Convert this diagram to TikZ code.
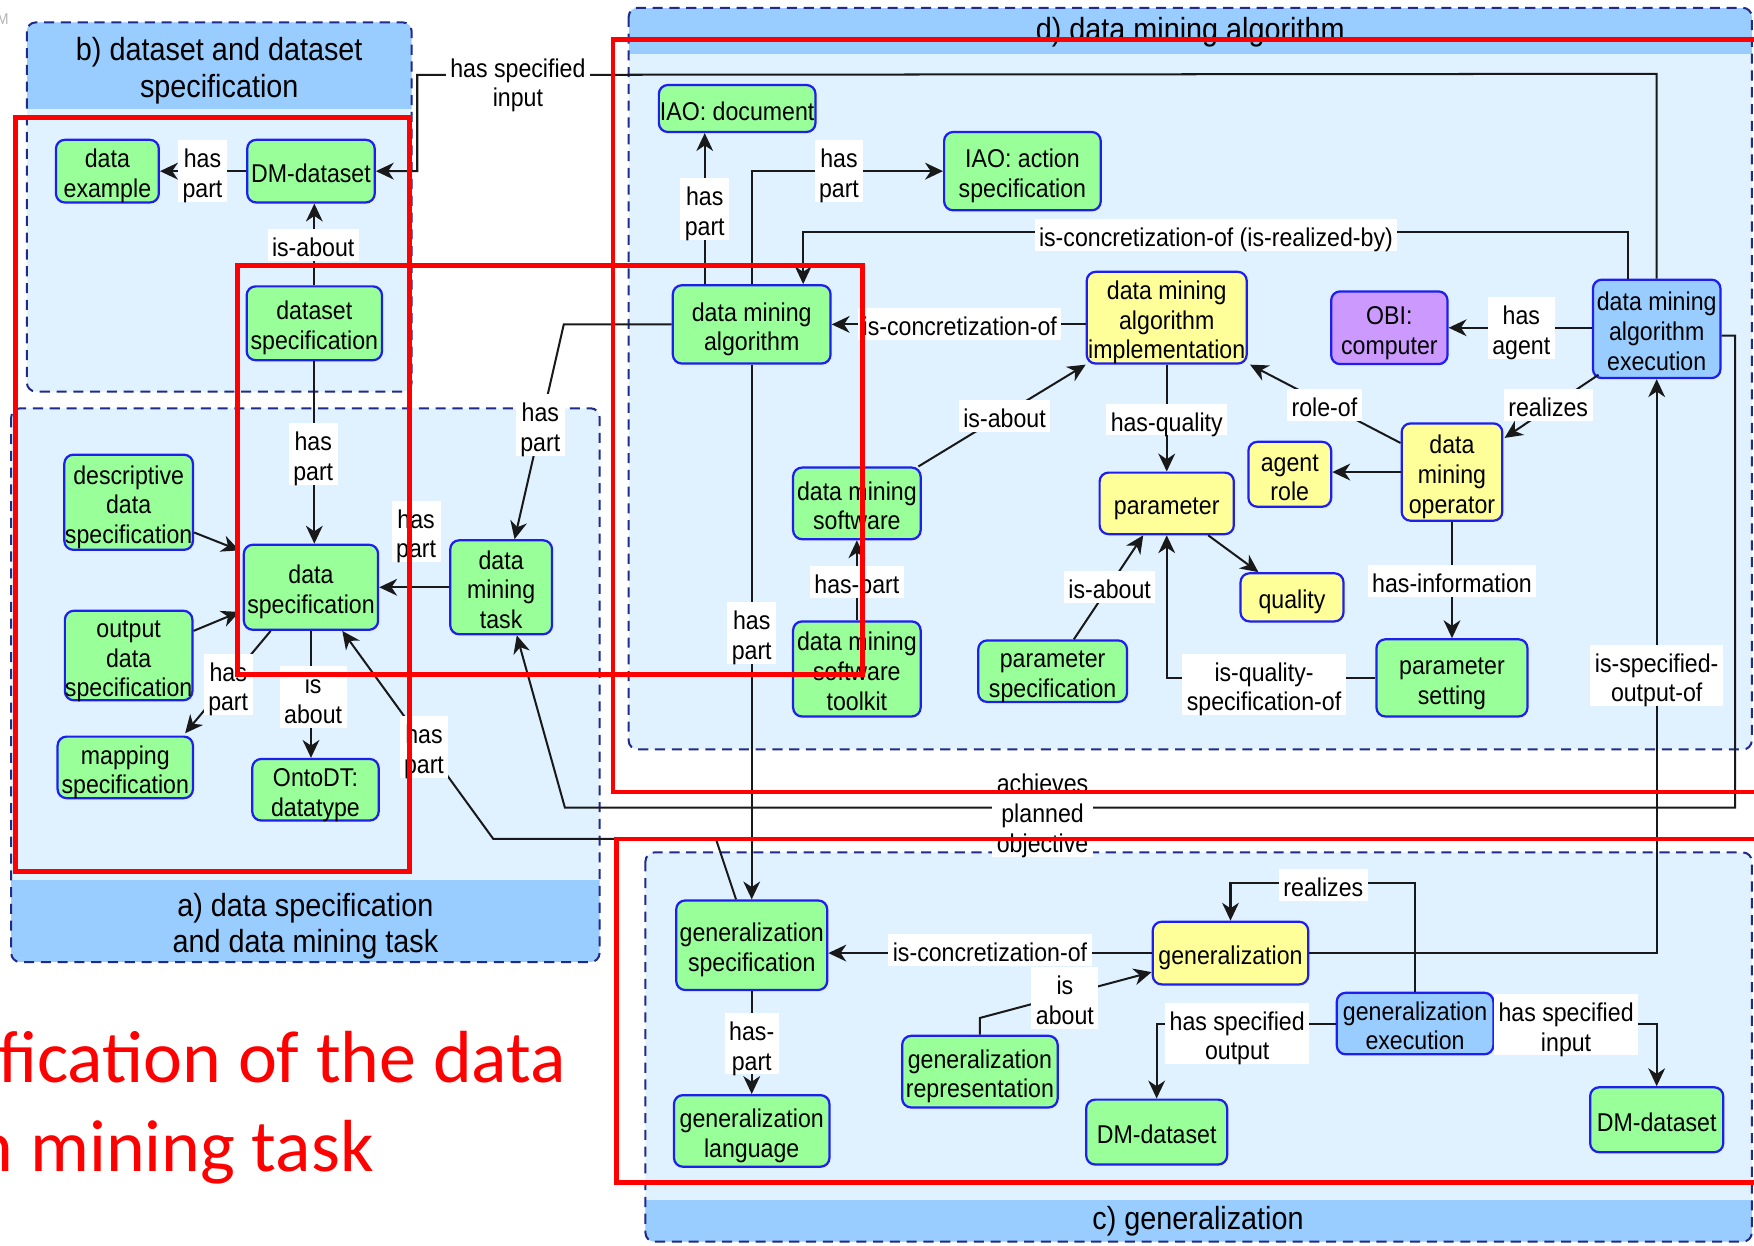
\documentclass[tikz,border=0pt]{standalone}
\usepackage{fontspec}
\setmainfont{Liberation Sans}[FakeStretch=0.9]
\newfontfamily\redfont{Carlito}
\usetikzlibrary{arrows.meta,calc}
\definecolor{ngreen}{HTML}{99FF99}
\definecolor{nyellow}{HTML}{FFFF99}
\definecolor{nblue}{HTML}{99CCFF}
\definecolor{npurple}{HTML}{CC99FF}
\definecolor{nborder}{HTML}{1E1EF0}
\definecolor{phead}{HTML}{99CCFF}
\definecolor{pbody}{HTML}{E0F2FF}
\definecolor{pline}{HTML}{1F2A8A}
\definecolor{redbox}{HTML}{FF0000}
\newcommand{\nf}{\fontsize{11.5}{13.25}\selectfont}
\newcommand{\tf}{\fontsize{14.3}{16.5}\selectfont}
\newcommand{\mltx}[1]{\raisebox{-2.5pt}[\height][\depth]{\begin{tabular}{@{}c@{}}#1\end{tabular}}}
\begin{document}
\begin{tikzpicture}[x=0.5pt,y=-0.5pt,
  box/.style={draw=nborder, line width=1pt, rounded corners=4pt, inner sep=0pt, font=\nf},
  gbox/.style={box, fill=ngreen},
  ybox/.style={box, fill=nyellow},
  bbox/.style={box, fill=nblue},
  pbox/.style={box, fill=npurple},
  lbl/.style={fill=white, inner xsep=2pt, inner ysep=0.5pt, font=\nf},
  conn/.style={line width=0.9pt, draw=black!90},
  arr/.style={conn, -{Stealth[length=8pt,width=7.5pt,inset=2.5pt]}},
  panelline/.style={draw=pline, line width=0.9pt, dash pattern=on 4.5pt off 3pt, rounded corners=4pt},
  redframe/.style={draw=redbox, line width=2.2pt},
  ptitle/.style={align=center, font=\tf, inner sep=0pt}]
\useasboundingbox (0,0) rectangle (1568,1113);

% ---------- panels ----------
% b
\begin{scope}
\clip[rounded corners=4pt] (24,20) rectangle (368,350);
\fill[pbody] (24,20) rectangle (368,350);
\fill[phead] (24,20) rectangle (368,97);
\end{scope}
\draw[panelline] (24,20) rectangle (368,350);
\node[ptitle] (tb) at (196,63) {b) dataset and dataset\\specification};
% a
\begin{scope}
\clip[rounded corners=4pt] (10,365) rectangle (536,860);
\fill[pbody] (10,365) rectangle (536,860);
\fill[phead] (10,787) rectangle (536,860);
\end{scope}
\draw[panelline] (10,365) rectangle (536,860);
\node[ptitle] (ta) at (273,828) {a) data specification\\and data mining task};
% d
\begin{scope}
\clip[rounded corners=4pt] (562,7) rectangle (1566,670);
\fill[pbody] (562,7) rectangle (1566,670);
\fill[phead] (562,7) rectangle (1566,48);
\end{scope}
\draw[panelline] (562,7) rectangle (1566,670);
\node[ptitle] (td) at (1064,29) {d) data mining algorithm};
% c
\begin{scope}
\clip[rounded corners=4pt] (577,762) rectangle (1566,1110);
\fill[pbody] (577,762) rectangle (1566,1110);
\fill[phead] (577,1073) rectangle (1566,1110);
\end{scope}
\draw[panelline] (577,762) rectangle (1566,1110);
\node[ptitle] (tc) at (1071,1092) {c) generalization};

\node[text=gray!60, font=\fontsize{7}{8}\selectfont, anchor=east, inner sep=0pt] (mm) at (8,17) {M};

% ---------- nodes ----------
\node[gbox, minimum width=46pt, minimum height=28pt] (dex) at (96,153) {\mltx{data\\example}};
\node[gbox, minimum width=57pt, minimum height=28pt] (dmd1) at (278,153) {\mltx{DM-dataset}};
\node[gbox, minimum width=60.5pt, minimum height=33pt] (dss) at (281,289) {\mltx{dataset\\specification}};
\node[gbox, minimum width=57.5pt, minimum height=42.5pt] (dds) at (115,449) {\mltx{descriptive\\data\\specification}};
\node[gbox, minimum width=60pt, minimum height=38pt] (dsp) at (278,525) {\mltx{data\\specification}};
\node[gbox, minimum width=45.5pt, minimum height=42pt] (dmt) at (448,525) {\mltx{data\\mining\\task}};
\node[gbox, minimum width=57pt, minimum height=40pt] (ods) at (115,586) {\mltx{output\\data\\specification}};
\node[gbox, minimum width=60.5pt, minimum height=27.5pt] (mps) at (112,686) {\mltx{mapping\\specification}};
\node[gbox, minimum width=56.5pt, minimum height=27.5pt] (odt) at (282,706) {\mltx{OntoDT:\\datatype}};

\node[gbox, minimum width=70pt, minimum height=21pt] (iaod) at (659,97) {\mltx{IAO: document}};
\node[gbox, minimum width=70pt, minimum height=35pt] (iaoa) at (914,153) {\mltx{IAO: action\\specification}};
\node[gbox, minimum width=70.5pt, minimum height=35pt] (dma) at (672,290) {\mltx{data mining\\algorithm}};
\node[ybox, minimum width=71.5pt, minimum height=41pt] (dmai) at (1043,284) {\mltx{data mining\\algorithm\\implementation}};
\node[pbox, minimum width=52pt, minimum height=32.5pt] (obi) at (1242,293) {\mltx{OBI:\\computer}};
\node[bbox, minimum width=57pt, minimum height=44pt] (dmae) at (1481,294) {\mltx{data mining\\algorithm\\execution}};
\node[gbox, minimum width=57pt, minimum height=32pt] (dms) at (766,450) {\mltx{data mining\\software}};
\node[gbox, minimum width=57pt, minimum height=42.5pt] (dmst) at (766,598) {\mltx{data mining\\software\\toolkit}};
\node[ybox, minimum width=60pt, minimum height=27.5pt] (par) at (1043,450) {\mltx{parameter}};
\node[ybox, minimum width=37pt, minimum height=29pt] (agr) at (1153,424) {\mltx{agent\\role}};
\node[ybox, minimum width=45pt, minimum height=43.5pt] (dmo) at (1298,422) {\mltx{data\\mining\\operator}};
\node[ybox, minimum width=46pt, minimum height=21.5pt] (qual) at (1155,534) {\mltx{quality}};
\node[gbox, minimum width=66.5pt, minimum height=27.5pt] (pspec) at (941,600) {\mltx{parameter\\specification}};
\node[gbox, minimum width=67.5pt, minimum height=34.5pt] (pset) at (1298,606) {\mltx{parameter\\setting}};

\node[gbox, minimum width=67.5pt, minimum height=40pt] (gspec) at (672,845) {\mltx{generalization\\specification}};
\node[gbox, minimum width=69.5pt, minimum height=32pt] (glang) at (672,1011) {\mltx{generalization\\language}};
\node[ybox, minimum width=69.5pt, minimum height=28pt] (gen) at (1100,852) {\mltx{generalization}};
\node[gbox, minimum width=69.5pt, minimum height=32pt] (grep) at (876,958) {\mltx{generalization\\representation}};
\node[bbox, minimum width=70pt, minimum height=27.5pt] (gexe) at (1265,915) {\mltx{generalization\\execution}};
\node[gbox, minimum width=63pt, minimum height=29pt] (dmd2) at (1034,1012) {\mltx{DM-dataset}};
\node[gbox, minimum width=59.5pt, minimum height=29pt] (dmd3) at (1481,1001) {\mltx{DM-dataset}};

% ---------- bend points ----------
\coordinate (hsi) at (373,67);
\coordinate (b10) at (504,290);
\coordinate (b11a) at (640,750);
\coordinate (b11b) at (441,750);
\coordinate (b12a) at (1551,300);
\coordinate (b12b) at (1551,722);
\coordinate (b12c) at (505,722);
\coordinate (b32) at (876,910);
\coordinate (c13) at ($(dma.north)+(-42,0)$);
\coordinate (c15) at ($(dmae.north)+(-26,0)$);
\coordinate (c15b) at ($(dma.north)+(46,0)$);

% ---------- connectors ----------
\draw[arr] (dmd1.west) -- (dmd1.west -| dex.east);
\draw[arr] (dss.north) -- (dss.north |- dmd1.south);
\draw[arr] (dmae.north) -- ++(0,-183) -- (hsi) |- (dmd1.east);
\draw[arr] (dss.south) -- (dss.south |- dsp.north);
\draw[arr] ($(dds.east)+(0,27)$) -- ($(dsp.north west)+(-3,6)$);
\draw[arr] ($(ods.east)+(0,-22)$) -- ($(dsp.west)+(-3,22)$);
\draw[arr] ($(dsp.south west)+(25,0)$) -- ($(mps.north east)+(-8,-2)$);
\draw[arr] (dsp.south) -- (dsp.south |- odt.north);
\draw[arr] (dmt.west) -- (dmt.west -| dsp.east);
\draw[arr] (dma.west) -- (b10) -- ($(dmt.north)+(12,0)$);
\draw[arr] ($(gspec.north)+(-14,0)$) -- (b11a) -- (b11b) -- ($(dsp.south east)+(-33,0)$);
\draw[arr] ($(dmae.east)+(0,6)$) -- (b12a) -- (b12b) -- (b12c) -- ($(dmt.south)+(14,0)$);
\draw[arr] (c13) -- (c13 |- iaod.south);
\draw[arr] (dma.north) |- (iaoa.west);
\draw[arr] (c15) -- ++(0,-42) -| (c15b);
\draw[arr] (dmai.west |- dma.east) -- (dma.east);
\draw[arr] (dma.south) -- (gspec.north);
\draw[arr] (dmae.west |- obi.east) -- (obi.east);
\draw[arr] ($(dms.north east)+(-3,0)$) -- (dmai.south west);
\draw[arr] (dmai.south) -- (par.north);
\draw[arr] ($(dmo.west)+(0,-26)$) -- ($(dmai.south east)+(2,0)$);
\draw[arr] ($(dmae.south west)+(6,-4)$) -- ($(dmo.north east)+(1,14)$);
\draw[arr] (dmo.west) -- (dmo.west -| agr.east);
\draw[arr] (dmo.south) -- (pset.north);
\draw[arr] ($(par.south)+(37,0)$) -- ($(qual.north)+(-30,0)$);
\draw[arr] ($(pspec.north)+(19,0)$) -- ($(par.south)+(-21,0)$);
\draw[arr] (pset.west) -| (par.south);
\draw[arr] (dmst.north) -- (dms.south);
\draw[arr] (gen.east) -| (dmae.south);
\draw[arr] (gen.west) -- (gen.west -| gspec.east);
\draw[arr] (gspec.south) -- (glang.north);
\draw[arr] (grep.north) -- (b32) -- ($(gen.south west)+(0,-12)$);
\draw[arr] (gexe.north) -- ++(0,-97) -| (gen.north);
\draw[arr] (gexe.west) -| (dmd2.north);
\draw[arr] (gexe.east) -| (dmd3.north);

% ---------- labels ----------
\node[lbl] (l1) at (181,153) {\mltx{has\\part}};
\node[lbl] (l2) at (280,219) {\mltx{is-about}};
\node[lbl] (l3) at (463,72) {\mltx{has specified\\input}};
\node[lbl] (l4) at (280,406) {\mltx{has\\part}};
\node[lbl] (l5) at (204,612) {\mltx{has\\part}};
\node[lbl] (l6) at (280,623) {\mltx{is\\about}};
\node[lbl] (l7) at (372,475) {\mltx{has\\part}};
\node[lbl] (l8) at (483,380) {\mltx{has\\part}};
\node[lbl] (l9) at (379,668) {\mltx{has\\part}};
\node[lbl] (l10) at (932,725) {\mltx{achieves\\planned\\objective}};
\node[lbl] (l11) at (630,187) {\mltx{has\\part}};
\node[lbl] (l12) at (750,153) {\mltx{has\\part}};
\node[lbl] (l13) at (1087,210) {\mltx{is-concretization-of (is-realized-by)}};
\node[lbl] (l14) at (858,290) {\mltx{is-concretization-of}};
\node[lbl] (l15) at (672,566) {\mltx{has\\part}};
\node[lbl] (l16) at (1360,293) {\mltx{has\\agent}};
\node[lbl] (l17) at (898,372) {\mltx{is-about}};
\node[lbl] (l18) at (1043,375) {\mltx{has-quality}};
\node[lbl] (l19) at (1184,362) {\mltx{role-of}};
\node[lbl] (l20) at (1384,362) {\mltx{realizes}};
\node[lbl] (l21) at (1298,519) {\mltx{has-information}};
\node[lbl] (l22) at (992,525) {\mltx{is-about}};
\node[lbl] (l23) at (1130,612) {\mltx{is-quality-\\specification-of}};
\node[lbl] (l24) at (766,520) {\mltx{has-part}};
\node[lbl] (l25) at (1481,604) {\mltx{is-specified-\\output-of}};
\node[lbl] (l26) at (885,849) {\mltx{is-concretization-of}};
\node[lbl] (l27) at (672,933) {\mltx{has-\\part}};
\node[lbl] (l28) at (952,892) {\mltx{is\\about}};
\node[lbl] (l29) at (1183,791) {\mltx{realizes}};
\node[lbl] (l30) at (1106,924) {\mltx{has specified\\output}};
\node[lbl] (l31) at (1400,916) {\mltx{has specified\\input}};

% ---------- red frames and text ----------
\draw[redframe] (14,105) rectangle (366,779);
\draw[redframe] (212,237) rectangle (771,603);
\draw[redframe] (548,35) rectangle (1600,708);
\draw[redframe] (551,750) rectangle (1600,1057);
\node[anchor=base west, text=redbox, font=\redfont\fontsize{33}{40}\selectfont, inner sep=0pt] (rt1) at (-2,968) {fication of the data};
\node[anchor=base west, text=redbox, font=\redfont\fontsize{33}{40}\selectfont, inner sep=0pt] (rt2) at (-23,1047) {n mining task};
\end{tikzpicture}
\end{document}
